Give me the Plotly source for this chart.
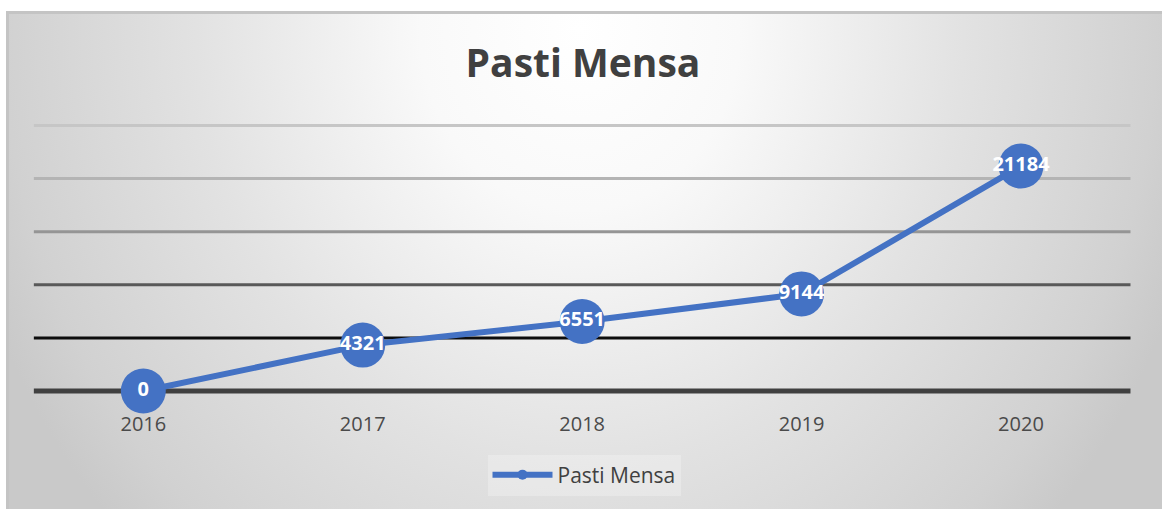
import plotly.graph_objects as go

# ---- data ----
years = [2016, 2017, 2018, 2019, 2020]
values = [0, 4321, 6551, 9144, 21184]
series_name = "Pasti Mensa"
title_text = "Pasti Mensa"
grid_values = [0, 5000, 10000, 15000, 20000, 25000]
grid_colors = ["#404040", "#0d0d0d", "#595959", "#959595", "#b4b4b4", "#c6c6c6"]
grid_widths = [5, 3, 3, 3, 3, 3]

W, H = 1162, 509
BLUE = "#4472C4"
FONT = "Open Sans"

fig = go.Figure()

# background radial gradient (pixel-space helper axes)
cx, cy, rx, ry = 580, 30, 640, 720
fig.add_trace(go.Scatter(
    x=[cx - rx, cx + rx, cx + rx, cx - rx, cx - rx],
    y=[cy - ry, cy - ry, cy + ry, cy + ry, cy - ry],
    mode="lines", fill="toself", line=dict(width=0),
    fillgradient=dict(type="radial", colorscale=[
        [0, "#ffffff"], [0.25, "#f9f9f9"], [0.6, "#e2e2e2"],
        [0.9, "#d1d1d1"], [1, "#c9c9c9"]]),
    hoverinfo="skip", showlegend=False, xaxis="x", yaxis="y"))

# gridlines
for v, c, w in zip(grid_values, grid_colors, grid_widths):
    fig.add_trace(go.Scatter(
        x=[years[0] - 0.5, years[-1] + 0.5], y=[v, v], mode="lines",
        line=dict(color=c, width=w), hoverinfo="skip", showlegend=False,
        xaxis="x2", yaxis="y2"))

# main series
fig.add_trace(go.Scatter(
    x=years, y=values, mode="lines+markers+text",
    text=[str(v) for v in values], textposition="middle center",
    textfont=dict(family=FONT, size=20, color="white", weight="bold"),
    line=dict(color=BLUE, width=6),
    marker=dict(color=BLUE, size=45),
    cliponaxis=False, showlegend=False, hoverinfo="skip",
    xaxis="x2", yaxis="y2"))

# legend-only entry
fig.add_trace(go.Scatter(
    x=[None], y=[None], mode="lines+markers", name=series_name,
    line=dict(color=BLUE, width=6), marker=dict(color=BLUE, size=10),
    xaxis="x2", yaxis="y2"))

fig.add_shape(type="rect", xref="paper", yref="paper",
              x0=7.5 / W, x1=1.02, y0=-0.02, y1=(H - 12.5) / H,
              line=dict(color="#c4c4c4", width=3), layer="above")

fig.update_layout(
    width=W, height=H,
    margin=dict(l=0, r=0, t=0, b=0),
    paper_bgcolor="white", plot_bgcolor="rgba(0,0,0,0)",
    font=dict(family=FONT, color="#404040"),
    title=dict(text=title_text, x=583 / W, y=(H - 63) / H,
               xanchor="center", yanchor="middle", xref="paper", yref="paper",
               font=dict(family=FONT, size=39, color="#404040", weight="bold")),
    xaxis=dict(domain=[6 / W, 1], range=[6, W], visible=False, fixedrange=True),
    yaxis=dict(domain=[0, (H - 11) / H], range=[H, 11], visible=False, fixedrange=True),
    xaxis2=dict(domain=[0.02892, 0.97306], range=[years[0] - 0.5, years[-1] + 0.5],
                anchor="y2", tickvals=years, ticktext=[str(y) for y in years],
                showgrid=False, zeroline=False, showline=False, ticks="",
                ticklabelstandoff=16,
                tickfont=dict(family=FONT, size=20, color="#4a4a4a"), fixedrange=True),
    yaxis2=dict(domain=[0.22556, 0.75971], range=[-300, 25300], anchor="x2",
                showgrid=False, zeroline=False, showticklabels=False, ticks="",
                fixedrange=True),
    showlegend=True,
    legend=dict(x=584 / W, y=(H - 475) / H, xanchor="center", yanchor="middle",
                orientation="h", bgcolor="rgba(255,255,255,0.25)",
                font=dict(family=FONT, size=21, color="#404040"),
                itemwidth=60),
)

fig.write_html("out.html", config={"displayModeBar": False},
               post_script="document.body.style.margin='0px';")
